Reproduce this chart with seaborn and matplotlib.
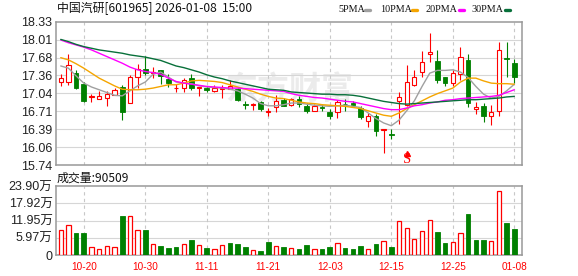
import numpy as np
import pandas as pd
import matplotlib
matplotlib.use("Agg")
import matplotlib.pyplot as plt
from matplotlib.lines import Line2D
import seaborn as sns

sns.set_theme(style="white")
plt.rcParams["font.family"] = ["Liberation Sans", "Noto Sans CJK SC", "DejaVu Sans"]

# ---------------- data ----------------
title = "中国汽研[601965] 2026-01-08  15:00"
vol_title = "成交量:90509"

dates = [d for d in pd.bdate_range("2025-10-15", "2026-01-08")
         if d.strftime("%Y-%m-%d") not in ("2026-01-01", "2026-01-02")]
date_labels = [d.strftime("%m-%d") for d in dates]
tick_labels = ["10-20", "10-30", "11-11", "11-21", "12-03", "12-15", "12-25", "01-08"]

open_ = [17.234, 17.234, 17.403, 17.204, 16.963, 16.927, 16.945, 16.999, 17.150, 16.855,
         17.325, 17.475, 17.403, 17.451, 17.295, 17.126, 17.138, 17.319, 17.132, 17.138,
         17.078, 17.120, 17.114, 17.114, 16.837, 16.825, 16.885, 16.692, 16.789, 16.921,
         16.825, 16.927, 16.813, 16.710, 16.783, 16.698, 16.698, 16.849, 16.861, 16.765,
         16.542, 16.620, 16.379, 16.295, 16.897, 16.825, 17.192, 17.421, 17.740, 17.620,
         17.331, 17.228, 17.391, 17.638, 16.747, 16.807, 16.620, 16.722, 17.674, 17.578]
close = [17.319, 17.548, 17.126, 16.903, 16.987, 16.987, 17.030, 17.090, 16.692, 17.331,
         17.475, 17.409, 17.415, 17.355, 17.216, 17.138, 17.270, 17.138, 17.144, 17.096,
         17.138, 17.138, 17.162, 16.915, 16.825, 16.843, 16.747, 16.710, 16.897, 16.813,
         16.927, 16.843, 16.722, 16.801, 16.771, 16.632, 16.873, 16.837, 16.825, 16.614,
         16.620, 16.361, 16.391, 16.283, 16.975, 17.234, 17.325, 17.596, 17.776, 17.283,
         17.228, 17.397, 17.686, 16.855, 16.789, 16.620, 16.704, 17.813, 17.662, 17.337]
high = [17.391, 17.740, 17.457, 17.247, 17.024, 17.072, 17.078, 17.138, 17.180, 17.361,
        17.560, 17.704, 17.505, 17.451, 17.379, 17.210, 17.307, 17.379, 17.156, 17.162,
        17.186, 17.186, 17.277, 17.126, 16.897, 16.855, 16.897, 16.765, 17.006, 16.951,
        16.957, 16.987, 16.855, 16.849, 16.843, 16.753, 16.909, 16.927, 16.897, 16.813,
        16.686, 16.668, 16.397, 16.391, 17.060, 17.548, 17.457, 17.807, 18.126, 17.819,
        17.331, 17.457, 17.873, 17.752, 16.879, 16.855, 16.819, 17.957, 17.957, 17.656]
low = [17.174, 17.186, 17.114, 16.873, 16.873, 16.927, 16.813, 16.999, 16.560, 16.855,
       17.138, 17.367, 17.319, 17.198, 17.156, 17.066, 17.066, 17.102, 16.981, 17.066,
       17.066, 16.945, 17.114, 16.897, 16.747, 16.735, 16.722, 16.632, 16.704, 16.813,
       16.813, 16.783, 16.680, 16.710, 16.710, 16.572, 16.596, 16.722, 16.783, 16.572,
       16.433, 16.271, 15.963, 16.211, 16.476, 16.801, 17.168, 17.337, 17.608, 17.228,
       17.162, 17.168, 17.277, 16.783, 16.662, 16.512, 16.463, 16.632, 17.337, 17.216]

ma5 = [17.53, 17.49, 17.35, 17.22, 17.15, 17.10, 17.05, 17.00, 16.99, 17.08,
       17.17, 17.24, 17.38, 17.42, 17.33, 17.24, 17.22, 17.21, 17.17, 17.15,
       17.14, 17.13, 17.11, 17.08, 17.02, 16.95, 16.85, 16.81, 16.81, 16.83,
       16.86, 16.86, 16.84, 16.82, 16.81, 16.80, 16.81, 16.82, 16.80, 16.78,
       16.68, 16.58, 16.50, 16.45, 16.55, 16.72, 16.90, 17.16, 17.40, 17.45,
       17.45, 17.46, 17.42, 17.32, 17.16, 17.02, 16.95, 16.98, 17.08, 17.20]
ma10 = [17.68, 17.64, 17.57, 17.49, 17.40, 17.31, 17.24, 17.17, 17.11, 17.10,
        17.10, 17.11, 17.13, 17.16, 17.19, 17.19, 17.22, 17.26, 17.27, 17.26,
        17.25, 17.23, 17.19, 17.15, 17.11, 17.07, 17.02, 16.98, 16.95, 16.94,
        16.91, 16.88, 16.86, 16.85, 16.83, 16.82, 16.81, 16.80, 16.78, 16.76,
        16.72, 16.68, 16.64, 16.62, 16.68, 16.76, 16.83, 16.90, 16.97, 17.03,
        17.08, 17.13, 17.24, 17.31, 17.31, 17.26, 17.22, 17.21, 17.21, 17.20]
ma20 = [18.00, 17.95, 17.91, 17.87, 17.82, 17.76, 17.70, 17.64, 17.58, 17.51,
        17.46, 17.43, 17.41, 17.38, 17.31, 17.25, 17.22, 17.20, 17.18, 17.16,
        17.15, 17.14, 17.13, 17.13, 17.12, 17.11, 17.10, 17.09, 17.08, 17.07,
        17.03, 17.00, 16.98, 16.96, 16.95, 16.93, 16.91, 16.89, 16.88, 16.85,
        16.82, 16.79, 16.76, 16.74, 16.74, 16.77, 16.81, 16.83, 16.86, 16.88,
        16.91, 16.92, 16.94, 16.95, 16.96, 16.97, 16.98, 17.00, 17.05, 17.10]
ma30 = [18.01, 17.97, 17.92, 17.88, 17.85, 17.82, 17.80, 17.78, 17.76, 17.73,
        17.71, 17.69, 17.66, 17.63, 17.58, 17.53, 17.50, 17.46, 17.42, 17.37,
        17.33, 17.30, 17.26, 17.23, 17.20, 17.17, 17.14, 17.11, 17.10, 17.09,
        17.06, 17.05, 17.04, 17.03, 17.02, 17.02, 17.01, 17.01, 17.00, 16.98,
        16.95, 16.92, 16.89, 16.87, 16.85, 16.84, 16.85, 16.86, 16.87, 16.88,
        16.89, 16.90, 16.91, 16.92, 16.92, 16.93, 16.94, 16.95, 16.97, 16.98]

volume = [86600, 102800, 76200, 76200, 26600, 19600, 30000, 26600, 135000, 135000,
          86600, 86600, 36900, 31200, 25400, 27700, 36900, 52000, 33500, 24200,
          19600, 33500, 41600, 38100, 27700, 16200, 13900, 45000, 30000, 27700,
          24200, 20800, 34600, 19600, 20800, 27700, 40400, 25400, 20800, 31200,
          19600, 38100, 47300, 27700, 117800, 92400, 55400, 83100, 121200, 79700,
          41600, 43900, 75000, 142000, 53100, 53100, 48500, 221700, 110800, 90509]
vol_up = [1, 1, 0, 0, 1, 1, 1, 1, 0, 1, 1, 0, 1, 0, 0, 0, 1, 0, 1, 0,
          1, 1, 0, 0, 0, 1, 0, 0, 1, 0, 1, 0, 0, 1, 0, 0, 1, 0, 0, 0,
          1, 0, 1, 0, 1, 1, 1, 1, 1, 0, 0, 1, 1, 0, 0, 0, 1, 1, 0, 0]

price_ticks = ["15.74", "16.06", "16.39", "16.71", "17.04", "17.36", "17.68", "18.01", "18.33"]
vol_ticks = ["0", "5.97万", "11.95万", "17.92万", "23.90万"]
ma_names = ["5PMA", "10PMA", "20PMA", "30PMA"]
signal_index = 45
signal_text = "S"

# ---------------- styling ----------------
RED = "#ff0000"
GREEN = "#008000"
MA_COLORS = ["#a0a0a0", "#f5a500", "#ff00ff", "#08703a"]
SPINE = "#999999"
GRID = "#d6d6d6"

W, H = 578, 276
fig = plt.figure(figsize=(W / 100, H / 100), dpi=100)


def rect(x0, y0, x1, y1):
    return [x0 / W, 1 - y1 / H, (x1 - x0) / W, (y1 - y0) / H]


axp = fig.add_axes(rect(55.5, 21.7, 522.3, 165))
axv = fig.add_axes(rect(55.5, 186, 522.3, 255))

n = len(close)
idx = np.arange(n)
o = np.array(open_); c = np.array(close); hi = np.array(high); lo = np.array(low)
up = c >= o
tick_pos = [date_labels.index(t) for t in tick_labels]
xlim = (-0.68, 60.04)

# watermark
axp.text(0.50, 0.52, "东方财富", transform=axp.transAxes, fontsize=23,
         color="#ebebeb", ha="center", va="center", style="italic",
         fontweight="bold", family=["Noto Sans CJK SC"], zorder=0.5)

# candles
axp.vlines(idx[up], lo[up], hi[up], color=RED, lw=0.8, zorder=2)
axp.vlines(idx[~up], lo[~up], hi[~up], color=GREEN, lw=0.8, zorder=2)
body_lo = np.minimum(o, c)
body_h = np.maximum(np.abs(c - o), 0.006)
axp.bar(idx[up], body_h[up], bottom=body_lo[up], width=0.55, facecolor="white",
        edgecolor=RED, lw=0.8, zorder=3)
axp.bar(idx[~up], body_h[~up], bottom=body_lo[~up], width=0.6, color=GREEN,
        edgecolor=GREEN, lw=0.6, zorder=3)

# moving averages
for vals, col in zip([ma5, ma10, ma20, ma30], MA_COLORS):
    sns.lineplot(x=idx, y=vals, ax=axp, color=col, lw=1.0, legend=False, zorder=4)

# signal marker
axp.plot([signal_index], [15.955], marker="^", ms=3.6, color=RED, lw=0, zorder=5)
axp.text(signal_index, 15.728, signal_text, color=RED, fontsize=10.5, ha="center",
         va="bottom", family=["Liberation Serif"], zorder=5)

# volume bars
v = np.array(volume); vu = np.array(vol_up).astype(bool)
axv.bar(idx[vu], v[vu], width=0.55, facecolor="white", edgecolor=RED, lw=0.9, zorder=3)
axv.bar(idx[~vu], v[~vu], width=0.6, color=GREEN, edgecolor=GREEN, lw=0.6, zorder=3)

# axes formatting
pmin, pmax = float(price_ticks[0]), float(price_ticks[-1])
pt = np.linspace(pmin, pmax, len(price_ticks))
axp.set_ylim(pmin, pmax)
axp.set_yticks(pt)
axp.set_yticklabels(price_ticks)
vmax = 239000
vt = np.linspace(0, vmax, len(vol_ticks))
axv.set_ylim(0, vmax)
axv.set_yticks(vt)
axv.set_yticklabels(vol_ticks)

for ax in (axp, axv):
    ax.set_xlim(*xlim)
    ax.set_xticks(tick_pos)
    ax.set_facecolor("white")
    ax.set_xlabel("")
    ax.set_ylabel("")
    for s in ax.spines.values():
        s.set_color(SPINE)
        s.set_linewidth(1.1)
        s.set_visible(True)
    ax.grid(False)
    for y in ax.get_yticks()[1:-1]:
        ax.axhline(y, color=GRID, lw=0.8, zorder=1)
    for xp in tick_pos:
        ax.axvline(xp, color="#c8c8c8", lw=0.8, ls=(0, (3, 3)), zorder=1)
    ax.tick_params(axis="both", length=0)
    ax.tick_params(axis="y", pad=2.2, labelsize=9, labelcolor="#222222")

axp.set_xticklabels([])
axv.set_xticklabels(tick_labels)
axv.tick_params(axis="x", pad=5, labelsize=7.2, labelcolor=RED)

# header texts
fig.text(57 / W, 1 - 9 / H, title, fontsize=8.6, ha="left", va="center",
         color="#111111", family=["Noto Sans CJK SC", "DejaVu Sans"])
fig.text(57 / W, 1 - 178 / H, vol_title, fontsize=8.6, ha="left", va="center",
         color="#111111", family=["Noto Sans CJK SC", "DejaVu Sans"])

leg_x = [338, 380, 425, 471]
dash_x = [365, 412, 459, 505]
for name, lx, dx, col in zip(ma_names, leg_x, dash_x, MA_COLORS):
    fig.text(lx / W, 1 - 9 / H, name, fontsize=7.3, ha="left", va="center",
             color="#111111", family=["Liberation Serif"])
    fig.add_artist(Line2D([dx / W, (dx + 5) / W], [1 - 9.5 / H, 1 - 9.5 / H],
                          transform=fig.transFigure, color=col, lw=2.4))

fig.savefig("out.png", dpi=100, facecolor="white")
